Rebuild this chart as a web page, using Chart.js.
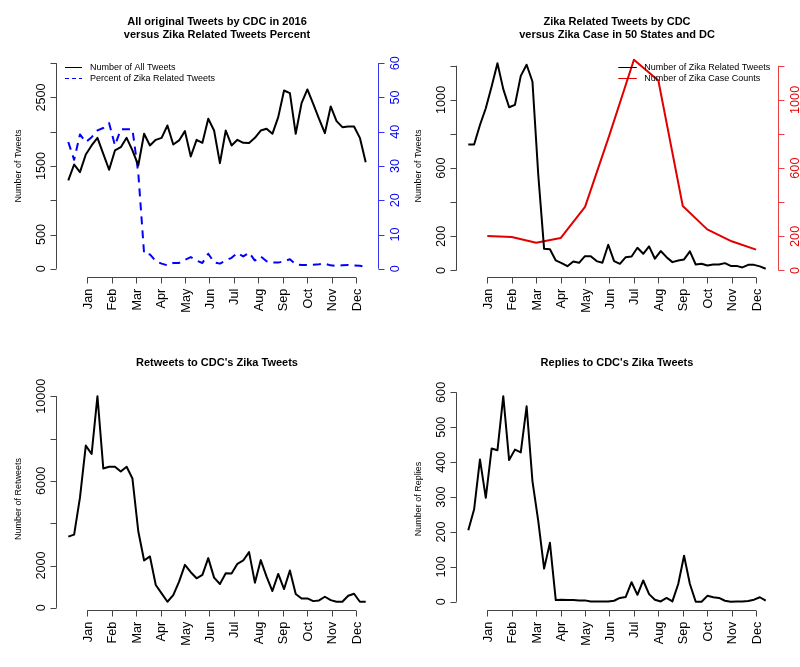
<!DOCTYPE html>
<html>
<head>
<meta charset="utf-8">
<title>CDC Zika Tweets 2016</title>
<script src="https://cdn.jsdelivr.net/npm/chart.js@4.4.1/dist/chart.umd.min.js"></script>
<style>
  html, body { margin: 0; padding: 0; background: #fff; }
  #wrap { position: relative; width: 800px; height: 667px; overflow: hidden; }
  #wrap canvas { position: absolute; }
</style>
</head>
<body>
<div id="wrap">
  <canvas id="allChart" width="400" height="334" style="left:0;top:0"></canvas>
  <canvas id="zikaChart" width="400" height="334" style="left:400px;top:0"></canvas>
  <canvas id="retweetChart" width="400" height="334" style="left:0;top:333px"></canvas>
  <canvas id="replyChart" width="400" height="334" style="left:400px;top:333px"></canvas>
</div>
<script>
// month axis (positions in week units, weeks are 1..52)
const months = ['Jan', 'Feb', 'Mar', 'Apr', 'May', 'Jun', 'Jul', 'Aug', 'Sep', 'Oct', 'Nov', 'Dec'];
const monthPos = [4.26, 8.45, 12.64, 16.83, 21.02, 25.21, 29.40, 33.59, 37.78, 41.97, 46.16, 50.35];

// weekly series
const allTweets = [1289, 1522, 1410, 1668, 1800, 1911, 1678, 1445, 1727, 1775,
    1911, 1727, 1508, 1970, 1800, 1882, 1911, 2091, 1814, 1873,
    2009, 1639, 1882, 1839, 2189, 2018, 1542, 2018, 1800, 1882,
    1839, 1834, 1911, 2018, 2043, 1970, 2213, 2602, 2563, 1970,
    2417, 2617, 2407, 2189, 1980, 2369, 2155, 2067, 2077, 2077,
    1911, 1556];
const zikaPercent = [37.0, 31.8, 39.2, 37.0, 38.4, 40.4, 41.1, 42.5, 36.0, 40.7,
    40.7, 40.7, 28.0, 4.4, 4.2, 2.2, 1.5, 1.0, 1.7, 1.7,
    2.6, 3.4, 2.4, 1.7, 4.4, 1.9, 1.5, 2.4, 3.2, 4.6,
    3.6, 4.7, 2.4, 3.6, 2.2, 1.8, 1.8, 2.2, 2.8, 1.3,
    1.1, 1.1, 1.2, 1.3, 1.5, 1.0, 0.8, 1.0, 1.1, 1.0,
    0.9, 0.6];
const zikaTweets = [739, 739, 853, 951, 1078, 1215, 1063, 957, 971, 1141,
    1206, 1108, 560, 127, 124, 59, 43, 25, 53, 45,
    84, 84, 55, 45, 151, 55, 39, 78, 82, 133,
    98, 141, 69, 114, 78, 49, 59, 65, 112, 35,
    39, 29, 35, 35, 43, 27, 27, 18, 33, 33,
    24, 10];
const retweets = [3365, 3460, 5206, 7667, 7270, 10000, 6587, 6667, 6667, 6444,
    6667, 6111, 3619, 2238, 2429, 1079, 683, 286, 603, 1238,
    2032, 1683, 1397, 1556, 2349, 1429, 1127, 1635, 1619, 2079,
    2238, 2635, 1190, 2254, 1476, 794, 1603, 889, 1762, 651,
    444, 444, 317, 349, 524, 365, 286, 286, 571, 667,
    286, 286];
const replies = [205, 265, 408, 298, 439, 434, 589, 406, 436, 428,
    560, 346, 231, 95, 169, 5, 6, 5, 5, 4,
    4, 1, 1, 1, 1, 3, 11, 14, 56, 20,
    61, 22, 6, 1, 11, 1, 51, 132, 51, 0,
    0, 17, 13, 11, 3, 0, 1, 1, 2, 6,
    13, 3];

// monthly series
const caseCounts = [202, 196, 163, 190, 373, 795, 1235, 1114, 378, 241, 171, 122];

// y axis ticks ('' = label dropped, as R does when they overlap)
const allTicks = [0, 500, 1000, 1500, 2000, 2500, 3000];
const allTickLabels = ['0', '500', '', '1500', '', '2500', ''];
const pctTicks = [0, 10, 20, 30, 40, 50, 60];
const pctTickLabels = ['0', '10', '20', '30', '40', '50', '60'];
const zikaTicks = [0, 200, 400, 600, 800, 1000, 1200];
const zikaTickLabels = ['0', '200', '', '600', '', '1000', ''];
const retweetTicks = [0, 2000, 4000, 6000, 8000, 10000];
const retweetTickLabels = ['0', '2000', '', '6000', '', '10000'];
const replyTicks = [0, 100, 200, 300, 400, 500, 600];
const replyTickLabels = ['0', '100', '200', '300', '400', '500', '600'];

const weeks = allTweets.map((_, i) => i + 1);

const FONT = '"Liberation Sans", Arial, Helvetica, sans-serif';
const AXIS_COLOR = '#444';

// R style 4% axis extension
function rRange(lo, hi) {
    const d = (hi - lo) * 0.04;
    return [lo - d, hi + d];
}

function rotText(ctx, text, x, y, align) {
    ctx.save();
    ctx.translate(x, y);
    ctx.rotate(-Math.PI / 2);
    ctx.textAlign = align;
    ctx.textBaseline = 'alphabetic';
    ctx.fillText(text, 0, 0);
    ctx.restore();
}

function drawYAxis(ctx, scale, x, side, ax) {
    const dir = side === 'left' ? -1 : 1;
    const ticks = ax.ticks;
    x = Math.round(x) + 0.5;
    ctx.strokeStyle = ax.color || AXIS_COLOR;
    ctx.lineWidth = 1;
    ctx.beginPath();
    ctx.moveTo(x, scale.getPixelForValue(ticks[0]));
    ctx.lineTo(x, scale.getPixelForValue(ticks[ticks.length - 1]));
    ticks.forEach(v => {
        const y = Math.round(scale.getPixelForValue(v)) + 0.5;
        ctx.moveTo(x, y);
        ctx.lineTo(x + dir * 6, y);
    });
    ctx.stroke();
    ctx.fillStyle = ax.labelColor || '#000';
    ctx.font = '12.7px ' + FONT;
    ticks.forEach((v, i) => {
        if (!ax.labels[i]) return;
        rotText(ctx, ax.labels[i], x + (side === 'left' ? -12 : 20), scale.getPixelForValue(v), 'center');
    });
}

// base-graphics look: open axes, rotated labels, plain legend
const rAxes = {
    id: 'rAxes',
    afterDraw(chart, args, o) {
        const { ctx, chartArea: a, scales } = chart;
        const xs = scales.x;
        ctx.save();

        // title
        ctx.fillStyle = '#000';
        ctx.font = 'bold 11px ' + FONT;
        ctx.textAlign = 'center';
        ctx.textBaseline = 'alphabetic';
        const cx = (a.left + a.right) / 2;
        o.title.forEach((t, i) => ctx.fillText(t, cx, o.titleY + i * 13));

        // y title
        ctx.font = '9px ' + FONT;
        rotText(ctx, o.ylab, 21, (a.top + a.bottom) / 2, 'center');

        // x axis
        const yb = Math.round(a.bottom) + 0.5;
        ctx.strokeStyle = AXIS_COLOR;
        ctx.lineWidth = 1;
        ctx.beginPath();
        ctx.moveTo(xs.getPixelForValue(monthPos[0]), yb);
        ctx.lineTo(xs.getPixelForValue(monthPos[monthPos.length - 1]), yb);
        monthPos.forEach(m => {
            const px = Math.round(xs.getPixelForValue(m)) + 0.5;
            ctx.moveTo(px, yb);
            ctx.lineTo(px, yb + 6);
        });
        ctx.stroke();
        ctx.fillStyle = '#000';
        ctx.font = '12.7px ' + FONT;
        monthPos.forEach((m, i) => {
            rotText(ctx, months[i], xs.getPixelForValue(m) + 4.5, a.bottom + 11.7, 'right');
        });

        // y axes
        drawYAxis(ctx, scales.y, a.left, 'left', o.left);
        if (o.right) drawYAxis(ctx, scales.y1, a.right, 'right', o.right);

        // legend
        if (o.legend) {
            const L = o.legend;
            ctx.font = '9px ' + FONT;
            ctx.textAlign = 'left';
            ctx.textBaseline = 'middle';
            chart.data.datasets.forEach((ds, i) => {
                const y = Math.round(L.y + i * 11) + 0.5;
                ctx.strokeStyle = ds.borderColor;
                ctx.lineWidth = 1;
                ctx.setLineDash((ds.borderDash || []).map(d => d / 2));
                ctx.beginPath();
                ctx.moveTo(L.x, y);
                ctx.lineTo(L.x + L.len, y);
                ctx.stroke();
                ctx.setLineDash([]);
                ctx.fillStyle = '#000';
                ctx.fillText(ds.label, L.x + L.len + L.gap, y);
            });
        }
        ctx.restore();
    }
};

const xRange = rRange(1, weeks.length);

function makePanel(id, datasets, yRange, y1Range, deco) {
    const scales = {
        x: { type: 'linear', display: false, bounds: 'data', min: xRange[0], max: xRange[1] },
        y: { type: 'linear', display: false, bounds: 'data', min: yRange[0], max: yRange[1] }
    };
    if (y1Range) {
        scales.y1 = { type: 'linear', display: false, bounds: 'data', position: 'right', min: y1Range[0], max: y1Range[1] };
    }
    return new Chart(document.getElementById(id), {
        type: 'line',
        data: { labels: weeks, datasets },
        options: {
            responsive: false,
            animation: false,
            devicePixelRatio: 1,
            events: [],
            layout: { padding: { left: 56.4, right: 22.4, top: 55, bottom: 57 } },
            elements: {
                point: { radius: 0 },
                line: { tension: 0, borderWidth: 2, borderJoinStyle: 'round', fill: false }
            },
            scales,
            plugins: {
                legend: { display: false },
                title: { display: false },
                tooltip: { enabled: false },
                rAxes: deco
            }
        },
        plugins: [rAxes]
    });
}

makePanel('allChart', [
    { label: 'Number of All Tweets', data: allTweets, borderColor: '#000', yAxisID: 'y' },
    { label: 'Percent of Zika Related Tweets', data: zikaPercent, borderColor: '#0000ff',
      borderDash: [8, 6], borderCapStyle: 'butt', yAxisID: 'y1' }
], rRange(0, 3000), rRange(0, 60), {
    title: ['All original Tweets by CDC in 2016', 'versus Zika Related Tweets Percent'],
    titleY: 24.5,
    ylab: 'Number of Tweets',
    left: { ticks: allTicks, labels: allTickLabels },
    right: { ticks: pctTicks, labels: pctTickLabels, color: '#3333ee', labelColor: '#0000ee' },
    legend: { x: 65, y: 67, len: 17, gap: 8 }
});

const zikaRange = rRange(Math.min(...zikaTweets), Math.max(...zikaTweets));
makePanel('zikaChart', [
    { label: 'Number of Zika Related Tweets', data: zikaTweets, borderColor: '#000', yAxisID: 'y' },
    { label: 'Number of Zika Case Counts', data: monthPos.map((m, i) => ({ x: m, y: caseCounts[i] })),
      borderColor: '#e00000', yAxisID: 'y1' }
], zikaRange, zikaRange, {
    title: ['Zika Related Tweets by CDC', 'versus Zika Case in 50 States and DC'],
    titleY: 24.5,
    ylab: 'Number of Tweets',
    left: { ticks: zikaTicks, labels: zikaTickLabels },
    right: { ticks: zikaTicks, labels: zikaTickLabels, color: '#e84040', labelColor: '#e00000' },
    legend: { x: 218.3, y: 67, len: 18.5, gap: 7.5 }
});

makePanel('retweetChart', [
    { label: 'Retweets', data: retweets, borderColor: '#000' }
], rRange(Math.min(...retweets), Math.max(...retweets)), null, {
    title: ["Retweets to CDC's Zika Tweets"],
    titleY: 33,
    ylab: 'Number of Retweets',
    left: { ticks: retweetTicks, labels: retweetTickLabels }
});

makePanel('replyChart', [
    { label: 'Replies', data: replies, borderColor: '#000' }
], rRange(Math.min(...replies), Math.max(...replies)), null, {
    title: ["Replies to CDC's Zika Tweets"],
    titleY: 33,
    ylab: 'Number of Replies',
    left: { ticks: replyTicks, labels: replyTickLabels }
});
</script>
</body>
</html>
